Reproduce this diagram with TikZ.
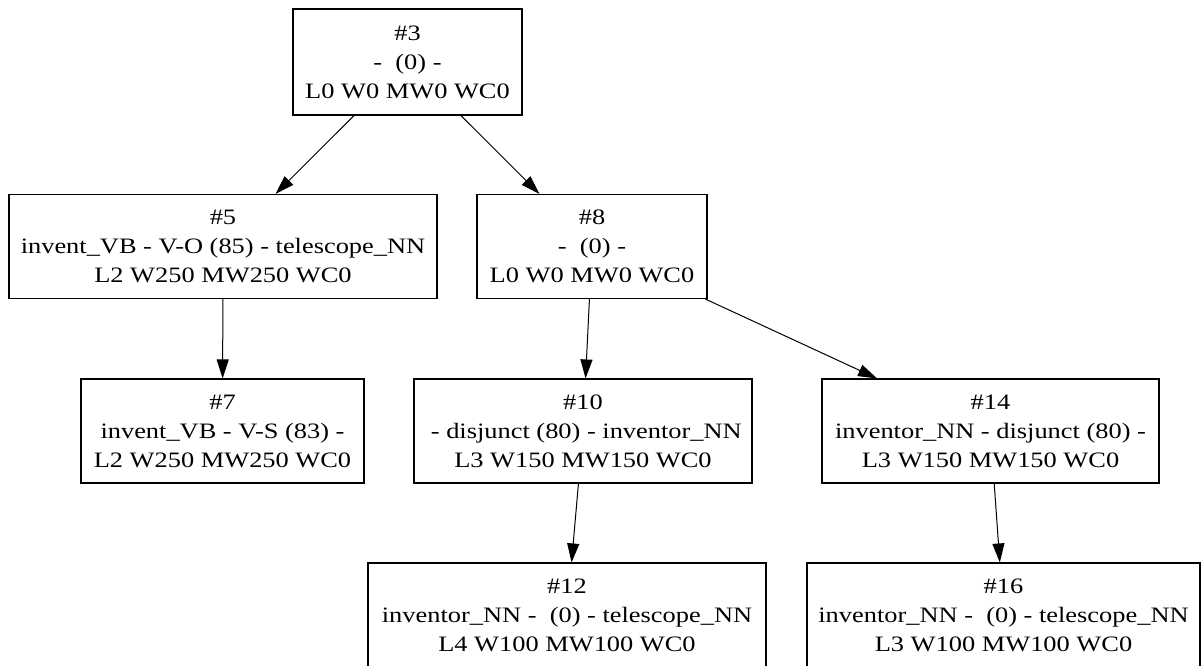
\documentclass[tikz,border=0pt]{standalone}
\usepackage{fontspec}
\setmainfont{Liberation Serif}[FakeStretch=1.2]
\usepackage{tikz}
\usetikzlibrary{arrows.meta, positioning}

\begin{document}
\begin{tikzpicture}[
    x=1pt, y=-1pt,
    entry/.style={
        draw,
        line width=1.1pt,
        inner sep=0pt,
        align=center,
        minimum height=104pt,
        font=\fontsize{22}{29}\selectfont
    },
    link/.style={
        -{Triangle[length=19pt,width=12pt]},
        line width=1pt
    }
]
\useasboundingbox (0,0) rectangle (1202,666);

% top level
\node[entry, minimum width=229pt, minimum height=106pt] (n3) at (407.5, 62) {\#3\\-\ \ (0) -\\L0 W0 MW0 WC0};

% second level
\node[entry, minimum width=428pt] (n5) at (223, 246.5) {\#5\\invent\_VB - V-O (85) - telescope\_NN\\L2 W250 MW250 WC0};
\node[entry, minimum width=230pt] (n8) at (592, 246.5) {\#8\\-\ \ (0) -\\L0 W0 MW0 WC0};

% third level
\node[entry, minimum width=283pt] (n7) at (222.5, 431) {\#7\\invent\_VB - V-S (83) -\ \\L2 W250 MW250 WC0};
\node[entry, minimum width=338pt] (n10) at (583, 431) {\#10\\\ - disjunct (80) - inventor\_NN\\L3 W150 MW150 WC0};
\node[entry, minimum width=337pt] (n14) at (990.5, 431) {\#14\\inventor\_NN - disjunct (80) -\ \\L3 W150 MW150 WC0};

% bottom level
\node[entry, minimum width=398pt] (n12) at (567, 615) {\#12\\inventor\_NN -\ \ (0) - telescope\_NN\\L4 W100 MW100 WC0};
\node[entry, minimum width=393pt] (n16) at (1003.5, 615) {\#16\\inventor\_NN -\ \ (0) - telescope\_NN\\L3 W100 MW100 WC0};

% Arrows
\draw[link] (n3) -- (n5);
\draw[link] (n3) -- (n8);
\draw[link] (n5) -- (n7);
\draw[link] (n8) -- (n10);
\draw[link] (n8) -- (n14);
\draw[link] (n10) -- (n12);
\draw[link] (n14) -- (n16);

\end{tikzpicture}
\end{document}
